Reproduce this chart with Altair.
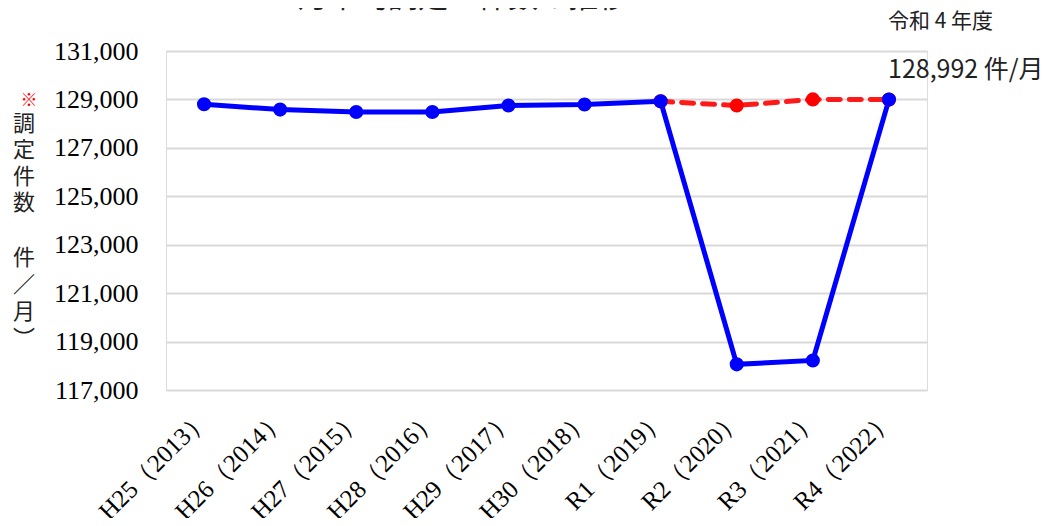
import altair as alt
import pandas as pd

years = ["H25（2013）", "H26（2014）", "H27（2015）", "H28（2016）", "H29（2017）",
         "H30（2018）", "R1（2019）", "R2（2020）", "R3（2021）", "R4（2022）"]
actual = [128800, 128580, 128480, 128480, 128750, 128790, 128920, 118060, 118220, 128992]
est_years = ["R1（2019）", "R2（2020）", "R3（2021）", "R4（2022）"]
est_values = [128920, 128750, 129000, 128992]
y_ticks = [117000, 119000, 121000, 123000, 125000, 127000, 129000, 131000]

title_text = "月平均調定　件数の推移"
note_line1 = "令和 4 年度"
note_line2 = "128,992 件/月"
ytitle_mark = "※"
ytitle_upper = ["調", "定", "件", "数"]
ytitle_lower = ["件", "／", "月", "︶"]

df = pd.DataFrame({"year": years, "value": actual})
df_est = pd.DataFrame({"year": est_years, "value": est_values})

W, H = 761, 339

x = alt.X("year:N", sort=years, title=None,
          scale=alt.Scale(type="point", padding=0.5),
          axis=alt.Axis(labelAngle=-45, labelAlign="right", labelBaseline="middle",
                        labelPadding=24, labelFont="Liberation Serif", labelFontSize=25,
                        labelColor="#000", domain=False, ticks=False, grid=False))
y = alt.Y("value:Q", title=None,
          scale=alt.Scale(domain=[117000, 131000], nice=False, zero=False),
          axis=alt.Axis(values=y_ticks, format=",d", labelFont="Liberation Serif",
                        labelFontSize=26, labelColor="#000", labelPadding=28,
                        domain=False, ticks=False, grid=True, gridColor="#d9d9d9",
                        gridWidth=2))

red = alt.Chart(df_est).mark_line(color="#ff1a1a", strokeWidth=5, strokeDash=[12, 9],
                                  strokeCap="round").encode(x=x, y=y)
red_pts = alt.Chart(df_est).mark_circle(color="#ff0000", size=200, opacity=1).encode(x=x, y=y)
blue = alt.Chart(df).mark_line(color="#0000ff", strokeWidth=5).encode(x=x, y=y)
blue_pts = alt.Chart(df).mark_circle(color="#0000ff", size=200, opacity=1).encode(x=x, y=y)

title = alt.Chart(pd.DataFrame({"t": [title_text]})).mark_text(
    font="Noto Sans CJK JP", fontSize=30, color="#222", align="center",
    baseline="alphabetic").encode(text="t:N", x=alt.value(297), y=alt.value(-44))

note1 = alt.Chart(pd.DataFrame({"t": [note_line1]})).mark_text(
    font="Noto Sans CJK JP", fontSize=21, color="#222", align="left",
    baseline="middle").encode(text="t:N", x=alt.value(722), y=alt.value(-29))
note2 = alt.Chart(pd.DataFrame({"t": [note_line2]})).mark_text(
    font="Noto Sans CJK JP", fontSize=25, color="#222", align="left",
    baseline="middle").encode(text="t:N", x=alt.value(722), y=alt.value(19))

ymark = alt.Chart(pd.DataFrame({"t": [ytitle_mark]})).mark_text(
    font="Noto Sans CJK JP", fontSize=17, color="#ff0000", align="center",
    baseline="middle").encode(text="t:N", x=alt.value(-137), y=alt.value(50))
ytitle1 = alt.Chart(pd.DataFrame({"t": [ytitle_upper]})).mark_text(
    font="Noto Sans CJK JP", fontSize=22, color="#222", align="center",
    baseline="top", lineHeight=26.3).encode(text="t:N", x=alt.value(-142), y=alt.value(63))
ytitle2 = alt.Chart(pd.DataFrame({"t": [ytitle_lower]})).mark_text(
    font="Noto Sans CJK JP", fontSize=22, color="#222", align="center",
    baseline="top", lineHeight=27).encode(text="t:N", x=alt.value(-142), y=alt.value(197))

chart = alt.layer(red, blue, red_pts, blue_pts, title, note1, note2, ymark,
                  ytitle1, ytitle2).properties(
    width=W, height=H,
    autosize=alt.AutoSizeParams(type="none"),
    padding={"left": 158, "top": 43, "right": 118, "bottom": 128},
).configure_view(stroke=None).configure(background="#ffffff")

chart.save("out.html", embed_options={"renderer": "svg", "actions": False})
